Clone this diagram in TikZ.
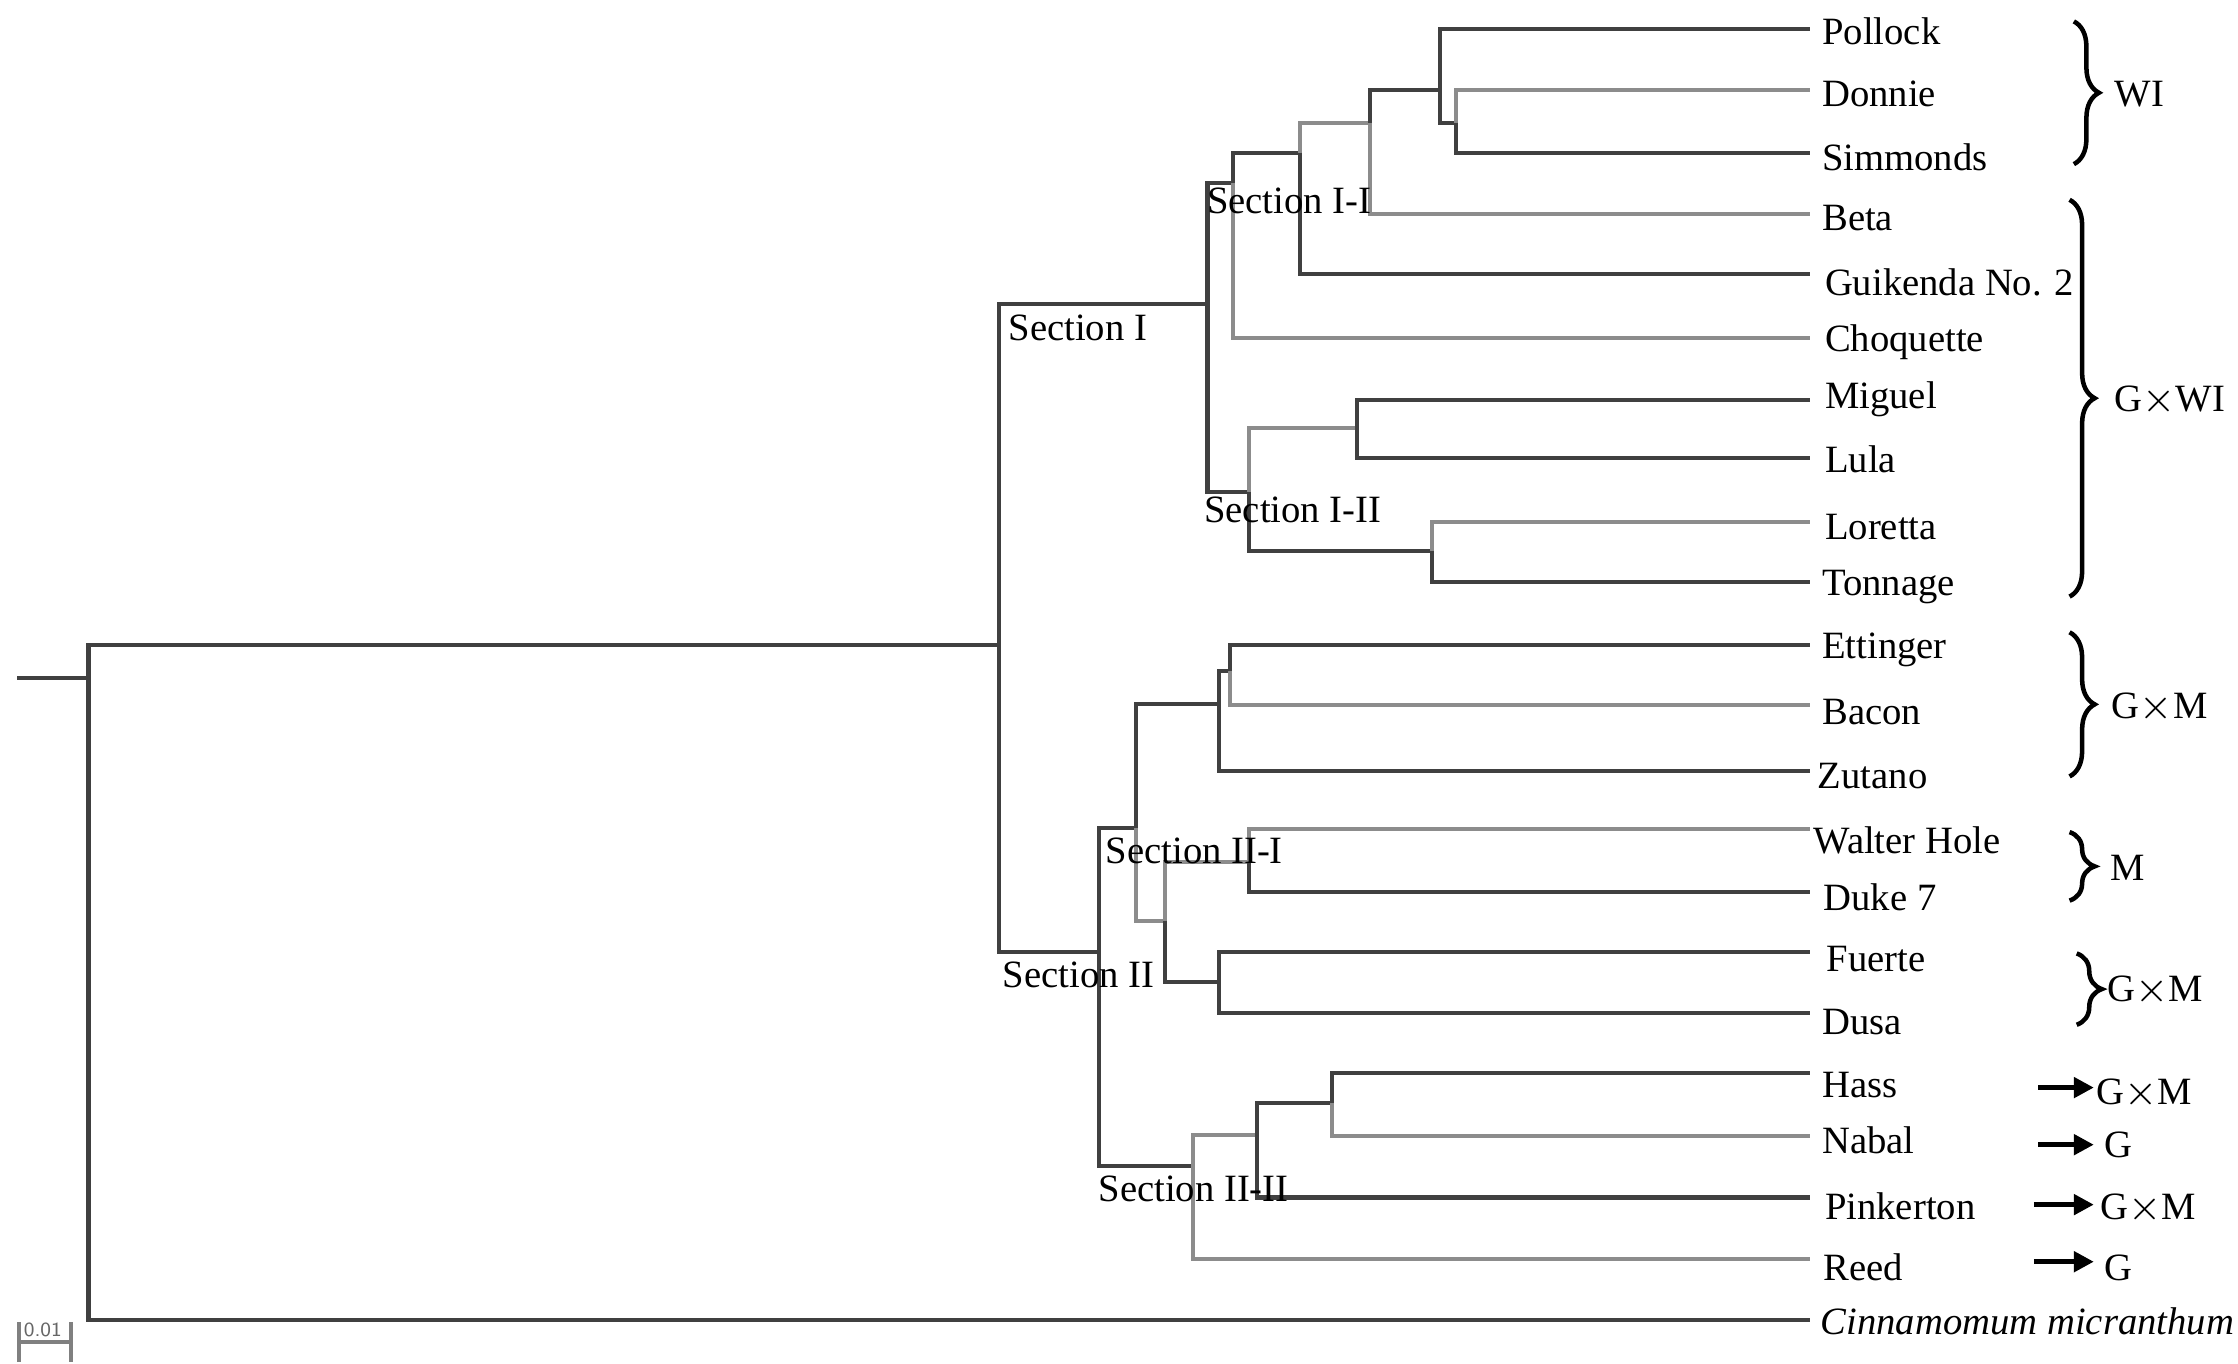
\documentclass[tikz,border=0pt]{standalone}
\usepackage{fontspec}
\setmainfont{Liberation Serif}
\usetikzlibrary{decorations.pathreplacing,arrows.meta}
\begin{document}
\begin{tikzpicture}[x=0.01cm,y=-0.01cm,
  br/.style={draw=black!75,line width=0.8pt},
  lbr/.style={draw=black!45,line width=0.8pt},
  lab/.style={anchor=west,inner sep=0pt,font=\fontsize{7.7pt}{9pt}\selectfont},
  sec/.style={anchor=west,inner sep=0pt,font=\fontsize{7.7pt}{9pt}\selectfont},
  brc/.style={decorate,decoration={brace,amplitude=5pt},line width=0.9pt},
  arr/.style={-{Triangle[length=4pt,width=4pt]},line width=1.1pt}]
\useasboundingbox (0,0) rectangle (1568,955);
% internal nodes (x, y of incoming branch)
\coordinate (r0) at (12,475);
\coordinate (r) at (62,475);
\coordinate (a) at (700,452);
\coordinate (s1) at (846,213);
\coordinate (b) at (864,128);
\coordinate (c) at (911,107);
\coordinate (d) at (960,86);
\coordinate (e) at (1009,63);
\coordinate (f) at (1020,86);
\coordinate (s12) at (875,345);
\coordinate (g) at (951,300);
\coordinate (h) at (1003,386);
\coordinate (s2) at (770,667);
\coordinate (i) at (796,580);
\coordinate (j) at (854,493);
\coordinate (k) at (862,470);
\coordinate (l) at (816,645);
\coordinate (m) at (875,604);
\coordinate (n) at (854,688);
\coordinate (s22) at (836,817);
\coordinate (o) at (881,795);
\coordinate (p) at (933,773);
% leaves
\foreach \nm/\yy in {Lpol/20,Ldon/63,Lsim/107,Lbet/150,Lgui/192,Lcho/237,Lmig/280,Llul/321,Llor/366,Lton/408,Lett/452,Lbac/494,Lzut/540,Lwal/581,Lduk/625,Lfue/667,Ldus/710,Lhas/752,Lnab/796,Lpin/839,Lree/882,Lcin/925}
  \coordinate (\nm) at (1268,\yy);
\draw[br] (r0) -- (r);
\draw[br] (r) |- (a);
\draw[br] (r) |- (Lcin);
\draw[br] (a) |- (s1);
\draw[br] (a) |- (s2);
\draw[br] (s1) |- (b);
\draw[br] (s1) |- (s12);
\draw[br] (b) |- (c);
\draw[lbr] (b) |- (Lcho);
\draw[lbr] (c) |- (d);
\draw[br] (c) |- (Lgui);
\draw[br] (d) |- (e);
\draw[lbr] (d) |- (Lbet);
\draw[br] (e) |- (Lpol);
\draw[br] (e) |- (f);
\draw[lbr] (f) |- (Ldon);
\draw[br] (f) |- (Lsim);
\draw[lbr] (s12) |- (g);
\draw[br] (s12) |- (h);
\draw[br] (g) |- (Lmig);
\draw[br] (g) |- (Llul);
\draw[lbr] (h) |- (Llor);
\draw[br] (h) |- (Lton);
\draw[br] (s2) |- (i);
\draw[br] (s2) |- (s22);
\draw[br] (i) |- (j);
\draw[lbr] (i) |- (l);
\draw[br] (j) |- (k);
\draw[br] (j) |- (Lzut);
\draw[br] (k) |- (Lett);
\draw[lbr] (k) |- (Lbac);
\draw[lbr] (l) |- (m);
\draw[br] (l) |- (n);
\draw[lbr] (m) |- (Lwal);
\draw[br] (m) |- (Lduk);
\draw[br] (n) |- (Lfue);
\draw[br] (n) |- (Ldus);
\draw[lbr] (s22) |- (o);
\draw[lbr] (s22) |- (Lree);
\draw[br] (o) |- (p);
\draw[br] (o) |- (Lpin);
\draw[br] (p) |- (Lhas);
\draw[lbr] (p) |- (Lnab);
% leaf labels
\node[lab] (tpol) at (1276,22) {Pollock};
\node[lab] (tdon) at (1276,66) {Donnie};
\node[lab] (tsim) at (1276,110) {Simmonds};
\node[lab] (tbet) at (1276,153) {Beta};
\node[lab] (tgui) at (1278,198) {Guikenda No. 2};
\node[lab] (tcho) at (1278,240) {Choquette};
\node[lab] (tmig) at (1278,280) {Miguel};
\node[lab] (tlul) at (1278,322) {Lula};
\node[lab] (tlor) at (1278,369) {Loretta};
\node[lab] (tton) at (1276,411) {Tonnage};
\node[lab] (tett) at (1276,455) {Ettinger};
\node[lab] (tbac) at (1276,499) {Bacon};
\node[lab] (tzut) at (1273,544) {Zutano};
\node[lab] (twal) at (1270,589) {Walter Hole};
\node[lab] (tduk) at (1277,629) {Duke 7};
\node[lab] (tfue) at (1279,672) {Fuerte};
\node[lab] (tdus) at (1276,716) {Dusa};
\node[lab] (thas) at (1276,760) {Hass};
\node[lab] (tnab) at (1276,799) {Nabal};
\node[lab] (tpin) at (1278,845) {Pinkerton};
\node[lab] (tree) at (1277,888) {Reed};
\node[lab] (tcin) at (1275,926) {\itshape Cinnamomum micranthum};
% section labels
\node[sec] (ls11) at (845,141) {Section I-I};
\node[sec] (ls1) at (706,230) {Section I};
\node[sec] (ls12) at (843,357) {Section I-II};
\node[sec] (ls21) at (774,596) {Section II-I};
\node[sec] (ls2) at (702,683) {Section II};
\node[sec] (ls22) at (769,833) {Section II-II};
% braces
\draw[brc] (1453,15) -- (1453,115);
\node[lab] (gw) at (1481,66) {WI};
\draw[brc] (1450,140) -- (1450,418);
\node[lab] (gwi) at (1481,281) {G$\times$WI};
\draw[brc] (1450,443) -- (1450,544);
\node[lab] (gm1) at (1479,496) {G$\times$M};
\draw[brc] (1450,583) -- (1450,631);
\node[lab] (gm) at (1478,608) {M};
\draw[brc] (1455,668) -- (1455,718);
\node[lab] (gm2) at (1476,694) {G$\times$M};
% arrows
\coordinate (a1) at (1428,762); \coordinate (a1e) at (1467,762);
\coordinate (a2) at (1428,802); \coordinate (a2e) at (1467,802);
\coordinate (a3) at (1425,844); \coordinate (a3e) at (1467,844);
\coordinate (a4) at (1425,884); \coordinate (a4e) at (1467,884);
\draw[arr] (a1) -- (a1e); \node[lab] (g1) at (1468,766) {G$\times$M};
\draw[arr] (a2) -- (a2e); \node[lab] (g2) at (1474,802) {G};
\draw[arr] (a3) -- (a3e); \node[lab] (g3) at (1471,847) {G$\times$M};
\draw[arr] (a4) -- (a4e); \node[lab] (g4) at (1474,888) {G};
% scale bar
\coordinate (sb1) at (13,940); \coordinate (sb2) at (50,940);
\draw[draw=black!50,line width=0.8pt] (sb1) -- (sb2);
\draw[draw=black!50,line width=0.8pt] ([yshift=-4]sb1) -- ([yshift=4]sb1) ([yshift=-4]sb2) -- ([yshift=4]sb2);
\node[inner sep=0pt,text=black!60,font=\sffamily\fontsize{4pt}{5pt}\selectfont] (sbl) at (30,932) {0.01};
\end{tikzpicture}
\end{document}
